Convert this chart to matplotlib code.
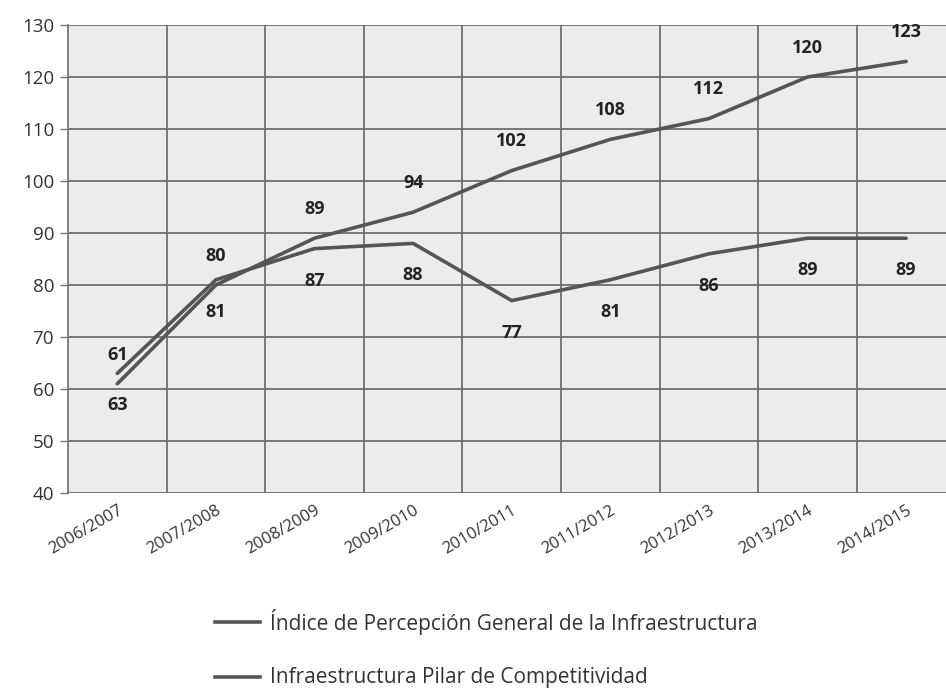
import matplotlib
matplotlib.use("Agg")
import matplotlib.pyplot as plt
from matplotlib.lines import Line2D

categories = ["2006/2007", "2007/2008", "2008/2009", "2009/2010", "2010/2011",
              "2011/2012", "2012/2013", "2013/2014", "2014/2015"]
indice_percepcion = [61, 80, 89, 94, 102, 108, 112, 120, 123]
pilar_competitividad = [63, 81, 87, 88, 77, 81, 86, 89, 89]
series_names = ["Índice de Percepción General de la Infraestructura",
                "Infraestructura Pilar de Competitividad"]
y_ticks = [40, 50, 60, 70, 80, 90, 100, 110, 120, 130]

plt.rcParams['font.family'] = ['Open Sans', 'DejaVu Sans']

fig = plt.figure(figsize=(9.46, 6.88), dpi=100)
fig.patch.set_facecolor("white")
W, H = 946, 688
left, right, top, bottom = 68, 68 + 9 * 98.6, 25, 493
ax = fig.add_axes([left / W, 1 - bottom / H, (right - left) / W, (bottom - top) / H])
ax.set_facecolor("#ececec")

x = list(range(len(categories)))
line_color = "#555555"
ax.plot(x, indice_percepcion, color=line_color, lw=2.6, solid_capstyle="round", zorder=3)
ax.plot(x, pilar_competitividad, color=line_color, lw=2.6, solid_capstyle="round", zorder=3)

for xi, v in zip(x, indice_percepcion):
    ax.annotate(str(v), (xi, v), xytext=(0, 21), textcoords="offset points",
                ha="center", va="center", fontsize=13, fontweight="bold", color="#222222")
for xi, v in zip(x, pilar_competitividad):
    ax.annotate(str(v), (xi, v), xytext=(0, -23), textcoords="offset points",
                ha="center", va="center", fontsize=13, fontweight="bold", color="#222222")

ax.set_xlim(-0.5, len(categories) - 0.5)
ax.set_ylim(40, 130)
ax.set_yticks(y_ticks)
ax.set_yticklabels([str(t) for t in y_ticks], fontsize=13.5, color="#333333")

ax.set_xticks(x)
ax.set_xticklabels(categories, rotation=30, ha="right", rotation_mode="anchor",
                   fontsize=12, color="#333333")
ax.tick_params(axis="x", length=0, pad=7)
ax.tick_params(axis="y", length=6, width=1, color="#777777", pad=4)

for b in [i - 0.5 for i in range(1, len(categories) + 1)]:
    ax.axvline(b, color="#6e6e6e", lw=1.3, zorder=1)
ax.yaxis.grid(True, color="#6e6e6e", lw=1.3, zorder=1)
ax.set_axisbelow(True)
for s in ["top", "right", "bottom"]:
    ax.spines[s].set_visible(False)
ax.spines["left"].set_color("#777777")
ax.spines["left"].set_linewidth(1.3)

# legend
for yy, name in zip([622, 677], series_names):
    fig.add_artist(Line2D([215 / W, 260 / W], [1 - yy / H, 1 - yy / H],
                          color=line_color, lw=2.6, transform=fig.transFigure))
    fig.text(270 / W, 1 - yy / H, name, fontsize=15, color="#333333", va="center", ha="left")

fig.savefig("out.png", dpi=100, facecolor="white")
